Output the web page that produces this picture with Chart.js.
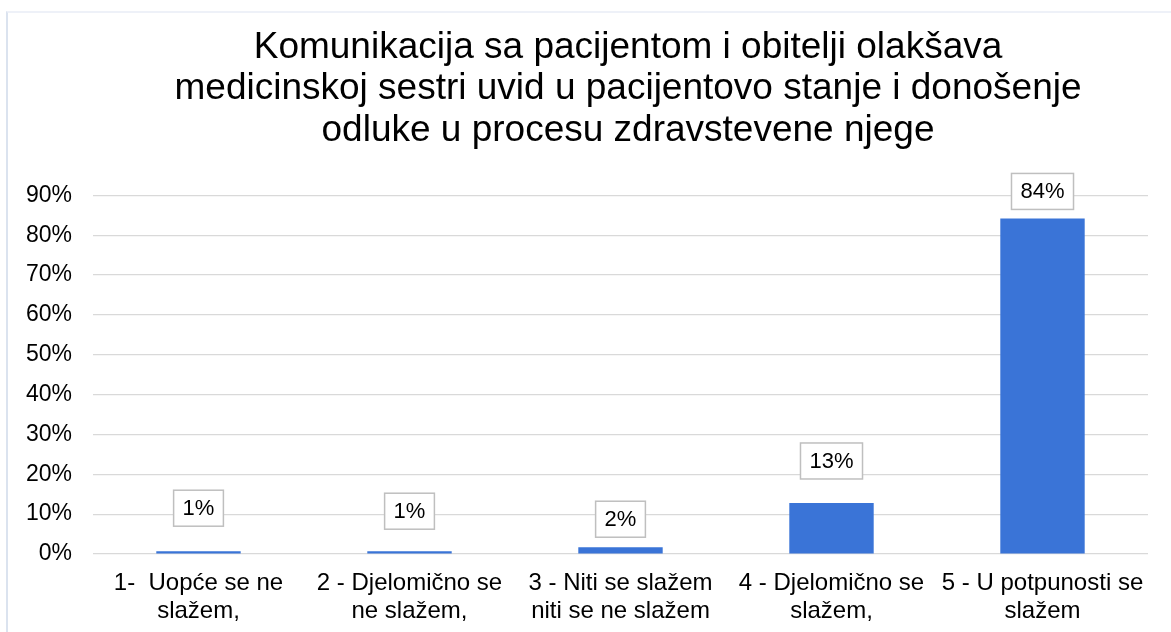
<!DOCTYPE html>
<html>
<head>
<meta charset="utf-8">
<script src="https://cdn.jsdelivr.net/npm/chart.js@4"></script>
<style>
    html, body { margin: 0; padding: 0; background: #fff; overflow: hidden; }
    #wrap { position: relative; width: 1171px; height: 632px; overflow: hidden; }
    #frame { position: absolute; left: 6px; top: 11px; width: 1300px; height: 700px;
             border-left: 2px solid #dbe3ef; border-top: 2px solid #eef1f8; box-sizing: border-box; }
    #chart { position: absolute; left: 0; top: 0; }
</style>
</head>
<body>
<div id="wrap">
    <div id="frame"></div>
    <canvas id="chart" width="1250" height="632"></canvas>
</div>
<script>
    const titleLines = [
        "Komunikacija sa pacijentom i obitelji olakšava",
        "medicinskoj sestri uvid u pacijentovo stanje i donošenje",
        "odluke u procesu zdravstevene njege"
    ];
    const categories = [
        ["1-  Uopće se ne", "slažem,"],
        ["2 - Djelomično se", "ne slažem,"],
        ["3 - Niti se slažem", "niti se ne slažem"],
        ["4 - Djelomično se", "slažem,"],
        ["5 - U potpunosti se", "slažem"]
    ];
    const percentages = [0.7, 0.7, 1.7, 12.8, 84.2];
    const valueLabels = ["1%", "1%", "2%", "13%", "84%"];
    const tickValues = [0, 10, 20, 30, 40, 50, 60, 70, 80, 90];

    // distance (px) from bar top to label box centre, as placed in the original
    const labelLift = [43, 40, 28, 42, 27];

    const fontFamily = "'Liberation Sans', Arial, sans-serif";

    // boxed data labels above the bars
    const boxedLabels = {
        id: "boxedLabels",
        afterDatasetsDraw(chart) {
            const ctx = chart.ctx;
            const meta = chart.getDatasetMeta(0);
            ctx.save();
            ctx.font = "22px " + fontFamily;
            ctx.textAlign = "center";
            ctx.textBaseline = "middle";
            meta.data.forEach((bar, i) => {
                const text = valueLabels[i];
                const w = ctx.measureText(text).width + 18;
                const h = 36;
                const cx = bar.x;
                const cy = bar.y - labelLift[i];
                ctx.fillStyle = "#ffffff";
                ctx.fillRect(cx - w / 2, cy - h / 2, w, h);
                ctx.strokeStyle = "#bfbfbf";
                ctx.lineWidth = 1.5;
                ctx.strokeRect(cx - w / 2, cy - h / 2, w, h);
                ctx.fillStyle = "#000000";
                ctx.fillText(text, cx, cy + 1);
            });
            ctx.restore();
        }
    };

    new Chart(document.getElementById("chart"), {
        type: "bar",
        data: {
            labels: categories,
            datasets: [{
                data: percentages,
                backgroundColor: "#3a74d7",
                barPercentage: 0.4,
                categoryPercentage: 1.0
            }]
        },
        options: {
            responsive: false,
            animation: false,
            layout: { padding: { left: 6, right: 0, top: 27, bottom: 7 } },
            plugins: {
                legend: { display: false },
                tooltip: { enabled: false },
                title: {
                    display: true,
                    text: titleLines,
                    color: "#000000",
                    font: { family: fontFamily, size: 37, weight: "normal", lineHeight: 1.12 },
                    padding: { top: 0, bottom: 44 }
                }
            },
            scales: {
                x: {
                    afterFit(axis) { axis.height = 71; },
                    grid: { display: false, drawTicks: false },
                    border: { display: false },
                    ticks: {
                        color: "#000000",
                        font: { family: fontFamily, size: 24, lineHeight: 1.17 },
                        padding: 15,
                        maxRotation: 0,
                        autoSkip: false
                    }
                },
                y: {
                    min: 0,
                    max: 90,
                    afterFit(axis) { axis.width = 87; },
                    afterBuildTicks(axis) { axis.ticks = tickValues.map(v => ({ value: v })); },
                    grid: { color: "#d9d9d9", lineWidth: 1.2, drawTicks: false },
                    border: { display: false },
                    ticks: {
                        color: "#000000",
                        font: { family: fontFamily, size: 23 },
                        padding: 21,
                        callback: v => v + "%"
                    }
                },
                // empty right-hand strip so the title centres over the whole frame
                spacer: {
                    type: "linear",
                    position: "right",
                    afterFit(axis) { axis.width = 102; },
                    grid: { display: false, drawTicks: false },
                    border: { display: false },
                    ticks: { display: false }
                }
            }
        },
        plugins: [boxedLabels]
    });
</script>
</body>
</html>
